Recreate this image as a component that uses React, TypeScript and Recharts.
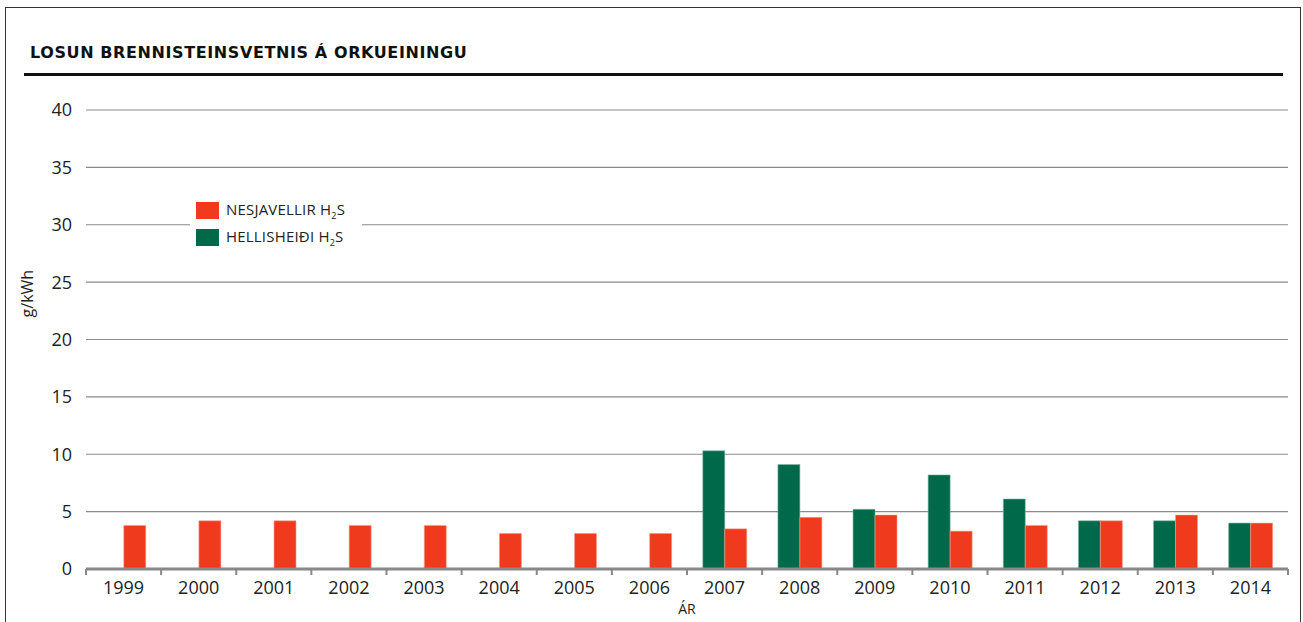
import React from 'react';
import {
  BarChart,
  Bar,
  XAxis,
  YAxis,
  CartesianGrid,
  Legend,
  Label
} from 'recharts';

const years = ['1999', '2000', '2001', '2002', '2003', '2004', '2005', '2006', '2007', '2008', '2009', '2010', '2011', '2012', '2013', '2014'];
const hellisheidi = [null, null, null, null, null, null, null, null, 10.3, 9.1, 5.2, 8.2, 6.1, 4.2, 4.2, 4.0];
const nesjavellir = [3.8, 4.2, 4.2, 3.8, 3.8, 3.1, 3.1, 3.1, 3.5, 4.5, 4.7, 3.3, 3.8, 4.2, 4.7, 4.0];
const yTicks = [0, 5, 10, 15, 20, 25, 30, 35, 40];

const data = years.map((year, i) => ({
  year,
  hellisheidi: hellisheidi[i],
  nesjavellir: nesjavellir[i]
}));

const RED = '#f03a1e';
const GREEN = '#00694a';
const FONT = '"Open Sans", sans-serif';

const PLOT_LEFT = 86;
const PLOT_RIGHT = 1288;
const HALF_BAND = (PLOT_RIGHT - PLOT_LEFT) / years.length / 2;

function YearTick(props: any) {
  const { x, y, payload, index } = props;
  return (
    <g>
      <line x1={x - HALF_BAND} y1={y - 8} x2={x - HALF_BAND} y2={y - 2} stroke="#888" strokeWidth={2} />
      {index === years.length - 1 && (
        <line x1={x + HALF_BAND} y1={y - 8} x2={x + HALF_BAND} y2={y - 2} stroke="#888" strokeWidth={2} />
      )}
      <text x={x} y={y + 17} textAnchor="middle" fontSize={18} fill="#222" fontFamily={FONT}>
        {payload.value}
      </text>
    </g>
  );
}

// y axis title sits a bit above the middle of the plot, as in the original
function UnitLabel(props: any) {
  const { viewBox } = props;
  const x = viewBox.x - 3;
  const y = viewBox.y + viewBox.height * 0.4;
  return (
    <text x={x} y={y} transform={`rotate(-90, ${x}, ${y})`} textAnchor="middle" fontSize={16} fill="#222" fontFamily={FONT}>
      g/kWh
    </text>
  );
}

function H2SLegend(props: any) {
  const items = [...(props.payload || [])].reverse();
  return (
    <div style={{ background: '#fff', padding: '3px 6px', fontFamily: FONT, fontSize: 15, color: '#222' }}>
      {items.map((item: any) => (
        <div key={item.value} style={{ display: 'flex', alignItems: 'center', height: 27, lineHeight: '18px' }}>
          <span style={{ display: 'inline-block', width: 23, height: 17, background: item.color, marginRight: 7 }} />
          <span style={{ letterSpacing: 0.2 }}>
            {item.value} H<span style={{ fontSize: 9, position: 'relative', top: 4 }}>2</span>S
          </span>
        </div>
      ))}
    </div>
  );
}

export default function App() {
  return (
    <div style={{ position: 'relative', width: 1303, height: 622, background: '#fff', overflow: 'hidden' }}>
      <style>{'body { margin: 0; }'}</style>
      <div style={{ position: 'absolute', left: 5, top: 7, width: 1294, height: 700, border: '1px solid #333' }} />
      <div
        style={{
          position: 'absolute',
          left: 30,
          top: 43,
          fontFamily: '"DejaVu Sans", sans-serif',
          fontWeight: 'bold',
          fontSize: 16,
          color: '#111',
          letterSpacing: 0.6
        }}
      >
        LOSUN BRENNISTEINSVETNIS Á ORKUEININGU
      </div>
      <div style={{ position: 'absolute', left: 24, top: 73, width: 1259, height: 3, background: '#111' }} />
      <div style={{ position: 'absolute', left: 0, top: 0 }}>
        <BarChart
          width={1303}
          height={622}
          data={data}
          margin={{ top: 110, right: 15, bottom: 8, left: 36 }}
          barCategoryGap="21%"
          barGap={0}
        >
          <CartesianGrid vertical={false} stroke="#8a8a8a" strokeWidth={1.2} />
          <XAxis
            dataKey="year"
            height={45}
            tickLine={false}
            tick={<YearTick />}
            interval={0}
            axisLine={{ stroke: '#888', strokeWidth: 3 }}
          >
            <Label value="ÁR" position="insideBottom" offset={0} fontSize={14} fill="#222" fontFamily={FONT} />
          </XAxis>
          <YAxis
            width={50}
            domain={[0, 40]}
            ticks={yTicks}
            axisLine={false}
            tickLine={false}
            tickSize={0}
            tickMargin={14}
            tick={{ fontSize: 18, fill: '#222', fontFamily: FONT }}
          >
            <Label content={<UnitLabel />} />
          </YAxis>
          <Legend
            layout="vertical"
            verticalAlign="middle"
            align="center"
            content={<H2SLegend />}
            wrapperStyle={{ position: 'absolute', left: 190, top: 194, width: 172 }}
          />
          <Bar dataKey="hellisheidi" name="HELLISHEIÐI" fill={GREEN} stroke="#7fb8a4" strokeWidth={0.6} isAnimationActive={false} />
          <Bar dataKey="nesjavellir" name="NESJAVELLIR" fill={RED} stroke="#f7a08f" strokeWidth={0.6} isAnimationActive={false} />
        </BarChart>
      </div>
    </div>
  );
}
